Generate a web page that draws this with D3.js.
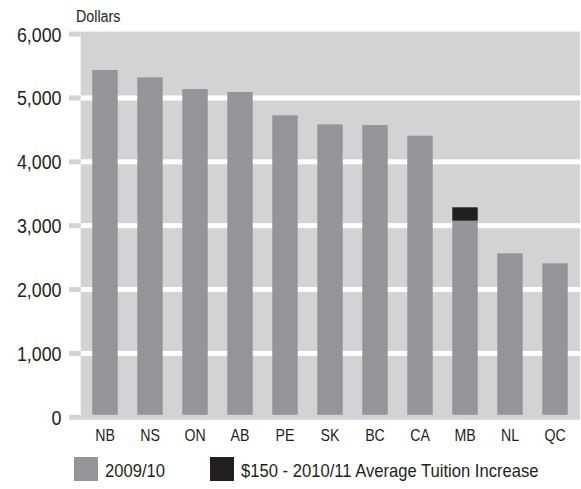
<!DOCTYPE html>
<html><head><meta charset="utf-8">
<script src="https://cdn.jsdelivr.net/npm/d3@7/dist/d3.min.js"></script>
<style>
html,body{margin:0;padding:0;background:#fff;}
svg text{font-family:"Liberation Sans",Arial,sans-serif;fill:#231f20;}
</style></head>
<body><svg id="c" width="581" height="489"></svg>
<script>
const categories = ["NB","NS","ON","AB","PE","SK","BC","CA","MB","NL","QC"];
const tuition2009 = [5438,5323,5140,5093,4728,4587,4576,4409,3078,2568,2411];
const increase2010 = [0,0,0,0,0,0,0,0,210,0,0];
const yTicks = [0,1000,2000,3000,4000,5000,6000];
const seriesNames = ["2009/10","$150 - 2010/11 Average Tuition Increase"];
const seriesColors = ["#939598","#231f20"];
const bgColor = "#d1d3d4";

const svg = d3.select("#c");
const y = d3.scaleLinear().domain([0,6000]).range([417.3,34.1]);
const x = d3.scaleBand().domain(categories).range([82.5,577.5])
  .paddingInner(0.435).paddingOuter(0.2175);
const fmt = d3.format(",");
const plotL = 80.7, plotR = 580, lw = 5;

// narrow text helper: real text, horizontally condensed
function label(sel, tx, ty, str, size, anchor, sx){
  return sel.append("text")
    .attr("transform",`translate(${tx},${ty}) scale(${sx},1)`)
    .attr("text-anchor",anchor).style("font-size",size+"px").text(str);
}

// plot background
svg.append("rect").attr("x",plotL).attr("y",y(6000)-lw/2)
  .attr("width",plotR-plotL).attr("height",y(0)-y(6000)+lw).attr("fill",bgColor);

// gridlines (white) inside plot
svg.selectAll(".grid").data(yTicks.filter(t=>t>0&&t<6000)).join("rect")
  .attr("x",plotL).attr("width",plotR-plotL)
  .attr("y",d=>y(d)-lw/2).attr("height",lw).attr("fill","#fff");

// tick marks
svg.selectAll(".tick").data(yTicks).join("rect")
  .attr("x",69).attr("width",plotL-69)
  .attr("y",d=>y(d)-lw/2).attr("height",lw).attr("fill",bgColor);

// tick labels
yTicks.forEach(t=>label(svg,61.5,y(t)+7.5,fmt(t),20.5,"end",0.87));

label(svg,76,21.5,"Dollars",16.8,"start",0.85);

// bars
const base = y(0)-lw/2;
svg.selectAll(".bar").data(categories).join("rect")
  .attr("x",d=>x(d)).attr("width",x.bandwidth())
  .attr("y",(d,i)=>y(tuition2009[i])).attr("height",(d,i)=>base-y(tuition2009[i]))
  .attr("fill",seriesColors[0]);
svg.selectAll(".inc").data(categories.filter((d,i)=>increase2010[i]>0)).join("rect")
  .attr("x",d=>x(d)).attr("width",x.bandwidth())
  .attr("y",d=>{const i=categories.indexOf(d);return y(tuition2009[i]+increase2010[i]);})
  .attr("height",d=>{const i=categories.indexOf(d);return y(tuition2009[i])-y(tuition2009[i]+increase2010[i]);})
  .attr("fill",seriesColors[1]);

// category labels
categories.forEach(c=>label(svg,x(c)+x.bandwidth()/2,441,c,17.3,"middle",0.82));

// legend
const legX = [74,210];
seriesNames.forEach((n,i)=>{
  svg.append("rect").attr("x",legX[i]).attr("y",457).attr("width",24).attr("height",24).attr("fill",seriesColors[i]);
  label(svg,legX[i]+31,477,n,17.5,"start",0.95);
});
</script></body></html>
